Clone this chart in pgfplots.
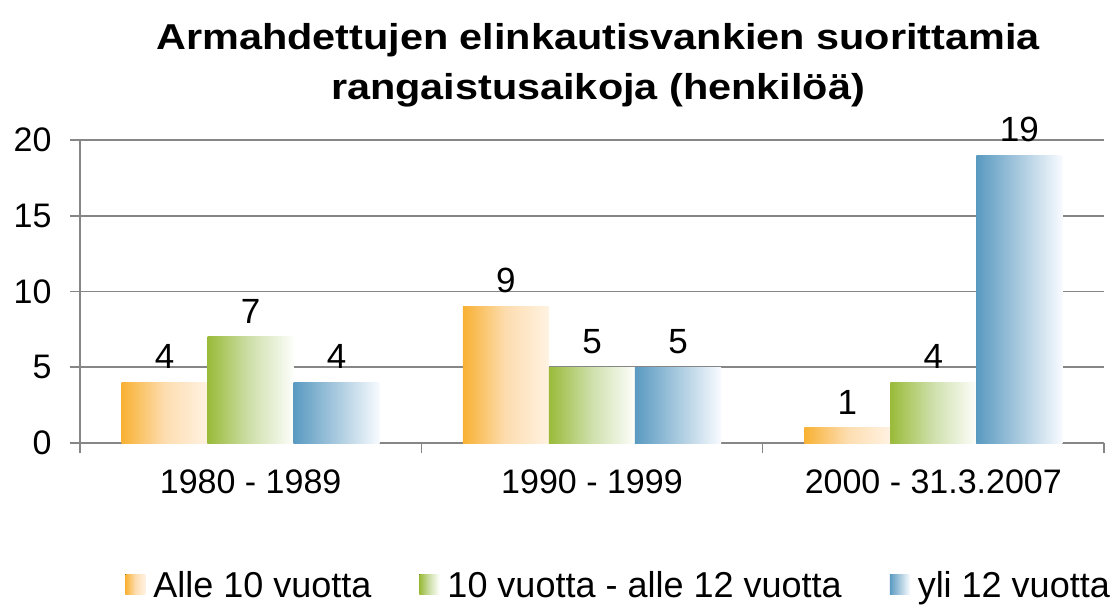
\documentclass[border=0pt]{standalone}
\usepackage{fontspec}
\setmainfont{Liberation Sans}
\newfontfamily\titlefont[FakeStretch=1.15]{Liberation Sans Bold}
\usepackage{pgfplots}
\pgfplotsset{compat=1.18}
\definecolor{gridc}{HTML}{868686}
\definecolor{orL}{HTML}{F8B133}
\definecolor{orM}{HTML}{FDDDB0}
\definecolor{orR}{HTML}{FFF2E2}
\definecolor{grL}{HTML}{9ABB3A}
\definecolor{grM}{HTML}{CFE0AC}
\definecolor{grR}{HTML}{FDFEFB}
\definecolor{blL}{HTML}{5A9AC1}
\definecolor{blM}{HTML}{A9CADF}
\definecolor{blR}{HTML}{F8FBFF}
\pgfplotsset{
  orS/.style={draw=none, bar shift=-0.252, left color=orL, right color=orR, middle color=orM},
  grS/.style={draw=none, bar shift=0, left color=grL, right color=grR, middle color=grM},
  blS/.style={draw=none, bar shift=0.252, left color=blL, right color=blR, middle color=blM},
}
\begin{document}
\begin{tikzpicture}
\path[use as bounding box] (-80pt,-163pt) rectangle (1034pt,443pt);
\begin{axis}[
  scale only axis, width=1024pt, height=303pt,
  xmin=-0.5, xmax=2.5, ymin=0, ymax=20,
  axis x line*=bottom, axis y line*=left,
  axis line style={-, draw=gridc, line width=1.6pt},
  ytick={0,5,10,15,20}, ymajorgrids,
  grid style={gridc, line width=1.6pt},
  major tick length=10pt, tick align=outside,
  tick style={gridc, line width=1.6pt},
  xtick={-0.5,0.5,1.5,2.5}, x tick label as interval,
  xticklabels={1980 - 1989,1990 - 1999,2000 - 31.3.2007},
  ticklabel style={font=\fontsize{34}{40}\selectfont, text=black},
  yticklabel style={xshift=-15pt},
  xticklabel style={yshift=-13pt},
  /pgf/number format/assume math mode=true,
  ybar, bar width=0.252,
  nodes near coords,
  every node near coord/.append style={font=\fontsize{35}{40}\selectfont, black, yshift=10pt},
  title={Armahdettujen elinkautisvankien suorittamia\\rangaistusaikoja (henkilöä)},
  title style={font=\titlefont\fontsize{36}{50}\selectfont, align=center, at={(0.5,1)}, anchor=south, yshift=23pt, xshift=6pt},
  legend image code/.code={\fill[#1] (0pt,-9pt) rectangle (20pt,11pt); \path (26pt,0pt);},
  legend style={at={(0.526,-0.47)}, anchor=center, draw=none, legend columns=3,
    font=\fontsize{36}{40}\selectfont,
    /tikz/every even column/.append style={column sep=46pt}},
]
\addplot[orS] coordinates {(0,4)};
\addlegendentry{Alle 10 vuotta}
\addplot[grS] coordinates {(0,7)};
\addlegendentry{10 vuotta - alle 12 vuotta}
\addplot[blS] coordinates {(0,4)};
\addlegendentry{yli 12 vuotta}
\addplot[orS, forget plot] coordinates {(1,9)};
\addplot[orS, forget plot] coordinates {(2,1)};
\addplot[grS, forget plot] coordinates {(1,5)};
\addplot[grS, forget plot] coordinates {(2,4)};
\addplot[blS, forget plot] coordinates {(1,5)};
\addplot[blS, forget plot] coordinates {(2,19)};
\end{axis}
\end{tikzpicture}
\end{document}
